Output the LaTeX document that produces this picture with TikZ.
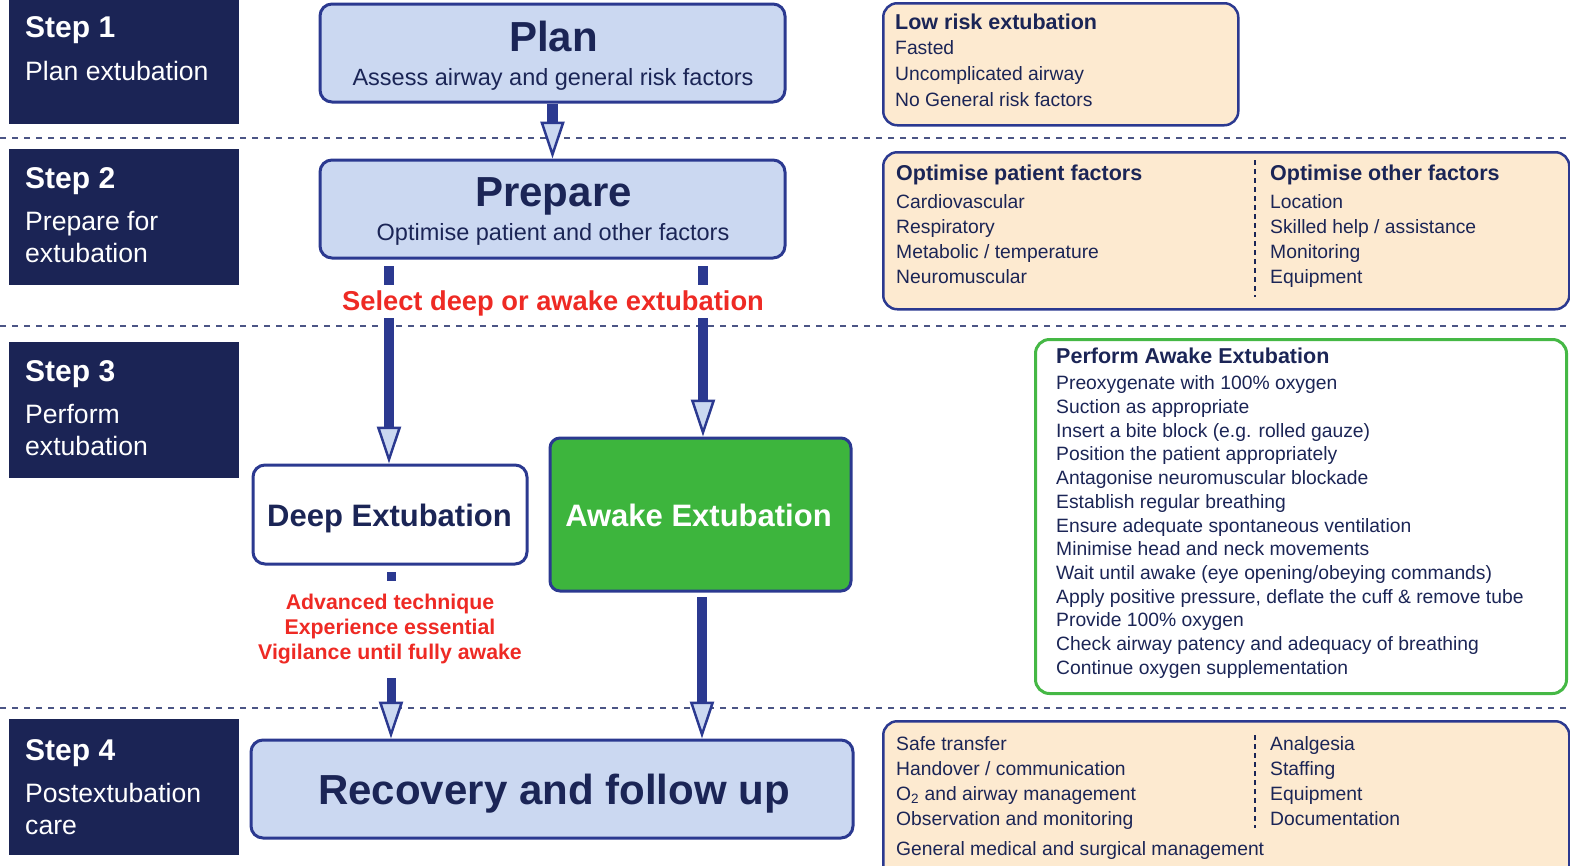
\documentclass[tikz,border=0pt]{standalone}
\usepackage{fontspec}
\setmainfont{Liberation Sans}
\usetikzlibrary{arrows.meta}
\definecolor{stepnavy}{HTML}{1B2455}
\definecolor{edgeblue}{HTML}{2B3990}
\definecolor{lblue}{HTML}{CBD8F1}
\definecolor{peach}{HTML}{FDEAD0}
\definecolor{gfill}{HTML}{3DB53D}
\definecolor{gedge}{HTML}{45B845}
\definecolor{redtxt}{HTML}{EE2A24}
\definecolor{txtnavy}{HTML}{1B2556}
\definecolor{dashcol}{HTML}{4B5585}
\newcommand{\fsz}[1]{\fontsize{#1}{#1}\selectfont}
\begin{document}
\begin{tikzpicture}[x=1pt,y=-1pt,
  stepbox/.style={fill=stepnavy, draw=none, anchor=north west, minimum width=230pt, inner sep=0pt},
  steptitle/.style={anchor=base west, inner sep=0pt, text=white, font=\fsz{30}\bfseries},
  steptext/.style={anchor=base west, inner sep=0pt, text=white, font=\fsz{26.6}},
  bluebox/.style={draw=edgeblue, line width=3pt, fill=lblue, rounded corners=12pt, inner sep=0pt},
  whitebox/.style={draw=edgeblue, line width=3pt, fill=white, rounded corners=12pt, inner sep=0pt},
  greenbox/.style={draw=edgeblue, line width=3pt, fill=gfill, rounded corners=10pt, inner sep=0pt},
  peachbox/.style={draw=edgeblue, line width=2.5pt, fill=peach, rounded corners=14pt, inner sep=0pt},
  gbox/.style={draw=gedge, line width=3pt, fill=white, rounded corners=14pt, inner sep=0pt},
  bigtitle/.style={anchor=base, inner sep=0pt, text=txtnavy, font=\fsz{42}\bfseries},
  subtitle/.style={anchor=base, inner sep=0pt, text=txtnavy, font=\fsz{23.5}},
  midtitle/.style={anchor=base, inner sep=0pt, font=\fsz{31}\bfseries},
  redlabel/.style={anchor=base, inner sep=0pt, text=redtxt, font=\fsz{21.3}\bfseries},
  head/.style={anchor=base west, inner sep=0pt, text=txtnavy, font=\fsz{21.5}\bfseries},
  item/.style={anchor=base west, inner sep=0pt, text=txtnavy, font=\fsz{19.3}},
  sepline/.style={draw=dashcol, line width=1.3pt, dash pattern=on 6pt off 6pt},
  coldash/.style={draw=txtnavy, line width=1.2pt, dash pattern=on 5pt off 4pt},
  shaft/.style={draw=edgeblue, line width=10pt},
  flowarrow/.style={draw=edgeblue, line width=10pt, -{Triangle[width=24pt,length=37pt,line width=2.5pt,fill=lblue]}}
]
\useasboundingbox (0,0) rectangle (1570,865);

% separators
\draw[sepline] (0,138) -- (1570,138);
\draw[sepline] (0,326) -- (1570,326);
\draw[sepline] (0,708) -- (1570,708);

% step boxes
\node[stepbox, minimum height=124pt] (s1) at (9,0) {};
\node[stepbox, minimum height=136pt] (s2) at (9,149) {};
\node[stepbox, minimum height=136pt] (s3) at (9,342) {};
\node[stepbox, minimum height=136pt] (s4) at (9,719) {};
\node[steptitle] (s1a) at (25,37) {Step 1};
\node[steptext] (s1b) at (25,80) {Plan extubation};
\node[steptitle] (s2a) at (25,188) {Step 2};
\node[steptext] (s2b) at (25,230) {Prepare for};
\node[steptext] (s2c) at (25,262) {extubation};
\node[steptitle] (s3a) at (25,381) {Step 3};
\node[steptext] (s3b) at (25,423) {Perform};
\node[steptext] (s3c) at (25,455) {extubation};
\node[steptitle] (s4a) at (25,760) {Step 4};
\node[steptext] (s4b) at (25,802) {Postextubation};
\node[steptext] (s4c) at (25,834) {care};

% main flow boxes
\node[bluebox, minimum width=465pt, minimum height=98pt] (plan) at (552.5,53) {};
\node[bigtitle] (planT) at (553.5,51) {Plan};
\node[subtitle] (planS) at (553,85) {Assess airway and general risk factors};

\node[bluebox, minimum width=465pt, minimum height=98pt] (prep) at (552.5,209) {};
\node[bigtitle] (prepT) at (553.5,206) {Prepare};
\node[subtitle] (prepS) at (553,240) {Optimise patient and other factors};

\node[whitebox, minimum width=274pt, minimum height=99pt] (deep) at (390,514.5) {};
\node[midtitle, text=txtnavy] (deepT) at (389.5,526) {Deep Extubation};

\node[greenbox, minimum width=301pt, minimum height=153pt] (awake) at (700.5,514.5) {};
\node[midtitle, text=white] (awakeT) at (698.5,526) {Awake Extubation};

\node[bluebox, minimum width=602pt, minimum height=98pt] (rec) at (552,789) {};
\node[bigtitle] (recT) at (554,804) {Recovery and follow up};

% arrows
\draw[flowarrow, line width=11pt] (plan.south) -- (prep.north);

\coordinate (l1) at (389,266);
\coordinate (l2) at (389,285);
\coordinate (l3) at (389,318);
\coordinate (r1) at (703,266);
\coordinate (r2) at (703,285);
\coordinate (r3) at (703,318);
\draw[shaft] (l1) -- (l2);
\draw[shaft] (r1) -- (r2);
\draw[flowarrow] (l3) -- (l3 |- deep.north);
\draw[flowarrow] (r3) -- (r3 |- awake.north);
\node[anchor=base, inner sep=0pt, text=redtxt, font=\fsz{27.3}\bfseries] (sel) at (553,310) {Select deep or awake extubation};

\coordinate (d1) at (391,572);
\coordinate (d2) at (391,581);
\coordinate (d3) at (391,678);
\draw[shaft, line width=9pt] (d1) -- (d2);
\draw[flowarrow, line width=9pt] (d3) -- (d3 |- rec.north);
\node[redlabel] (w1) at (390,609) {Advanced technique};
\node[redlabel] (w2) at (390,634) {Experience essential};
\node[redlabel] (w3) at (390,659) {Vigilance until fully awake};

\coordinate (a1) at (702,597);
\draw[flowarrow] (a1) -- (a1 |- rec.north);

% low risk box
\node[peachbox, anchor=north west, minimum width=355pt, minimum height=122pt] (lowrisk) at (882,2) {};
\node[head] (lrh) at (895,29) {Low risk extubation};
\foreach \t [count=\i] in {Fasted, Uncomplicated airway, No General risk factors}
  \node[item] (lr\i) at (895,29+25.7*\i) {\t};

% optimise box
\node[peachbox, anchor=north west, minimum width=686pt, minimum height=157pt] (opt) at (882,151) {};
\draw[coldash] (1255,160) -- (1255,297);
\node[head] (oph) at (896,180) {Optimise patient factors};
\foreach \t [count=\i] in {Cardiovascular, Respiratory, Metabolic / temperature, Neuromuscular}
  \node[item] (op\i) at (896,183+25*\i) {\t};
\node[head] (ooh) at (1270,180) {Optimise other factors};
\foreach \t [count=\i] in {Location, Skilled help / assistance, Monitoring, Equipment}
  \node[item] (oo\i) at (1270,183+25*\i) {\t};

% awake extubation steps
\node[gbox, anchor=north west, minimum width=531pt, minimum height=354pt] (steps) at (1034,338) {};
\node[head] (sth) at (1056,363) {Perform Awake Extubation};
\foreach \t [count=\i] in {Preoxygenate with 100\% oxygen, Suction as appropriate, Insert a bite block (e.g. rolled gauze), Position the patient appropriately, Antagonise neuromuscular blockade, Establish regular breathing, Ensure adequate spontaneous ventilation, Minimise head and neck movements, Wait until awake (eye opening/obeying commands), {Apply positive pressure, deflate the cuff \& remove tube}, Provide 100\% oxygen, Check airway patency and adequacy of breathing, Continue oxygen supplementation}
  \node[item] (st\i) at (1056,366.3+23.67*\i) {\t};

% recovery box
\node[peachbox, anchor=north west, minimum width=686pt, minimum height=160pt] (care) at (882,720) {};
\draw[coldash] (1255,735) -- (1255,828);
\foreach \t [count=\i] in {Safe transfer, Handover / communication, O\textsubscript{2} and airway management, Observation and monitoring}
  \node[item] (cl\i) at (896,725+25*\i) {\t};
\node[item] (cl5) at (896,855) {General medical and surgical management};
\foreach \t [count=\i] in {Analgesia, Staffing, Equipment, Documentation}
  \node[item] (cr\i) at (1270,725+25*\i) {\t};
\end{tikzpicture}
\end{document}
